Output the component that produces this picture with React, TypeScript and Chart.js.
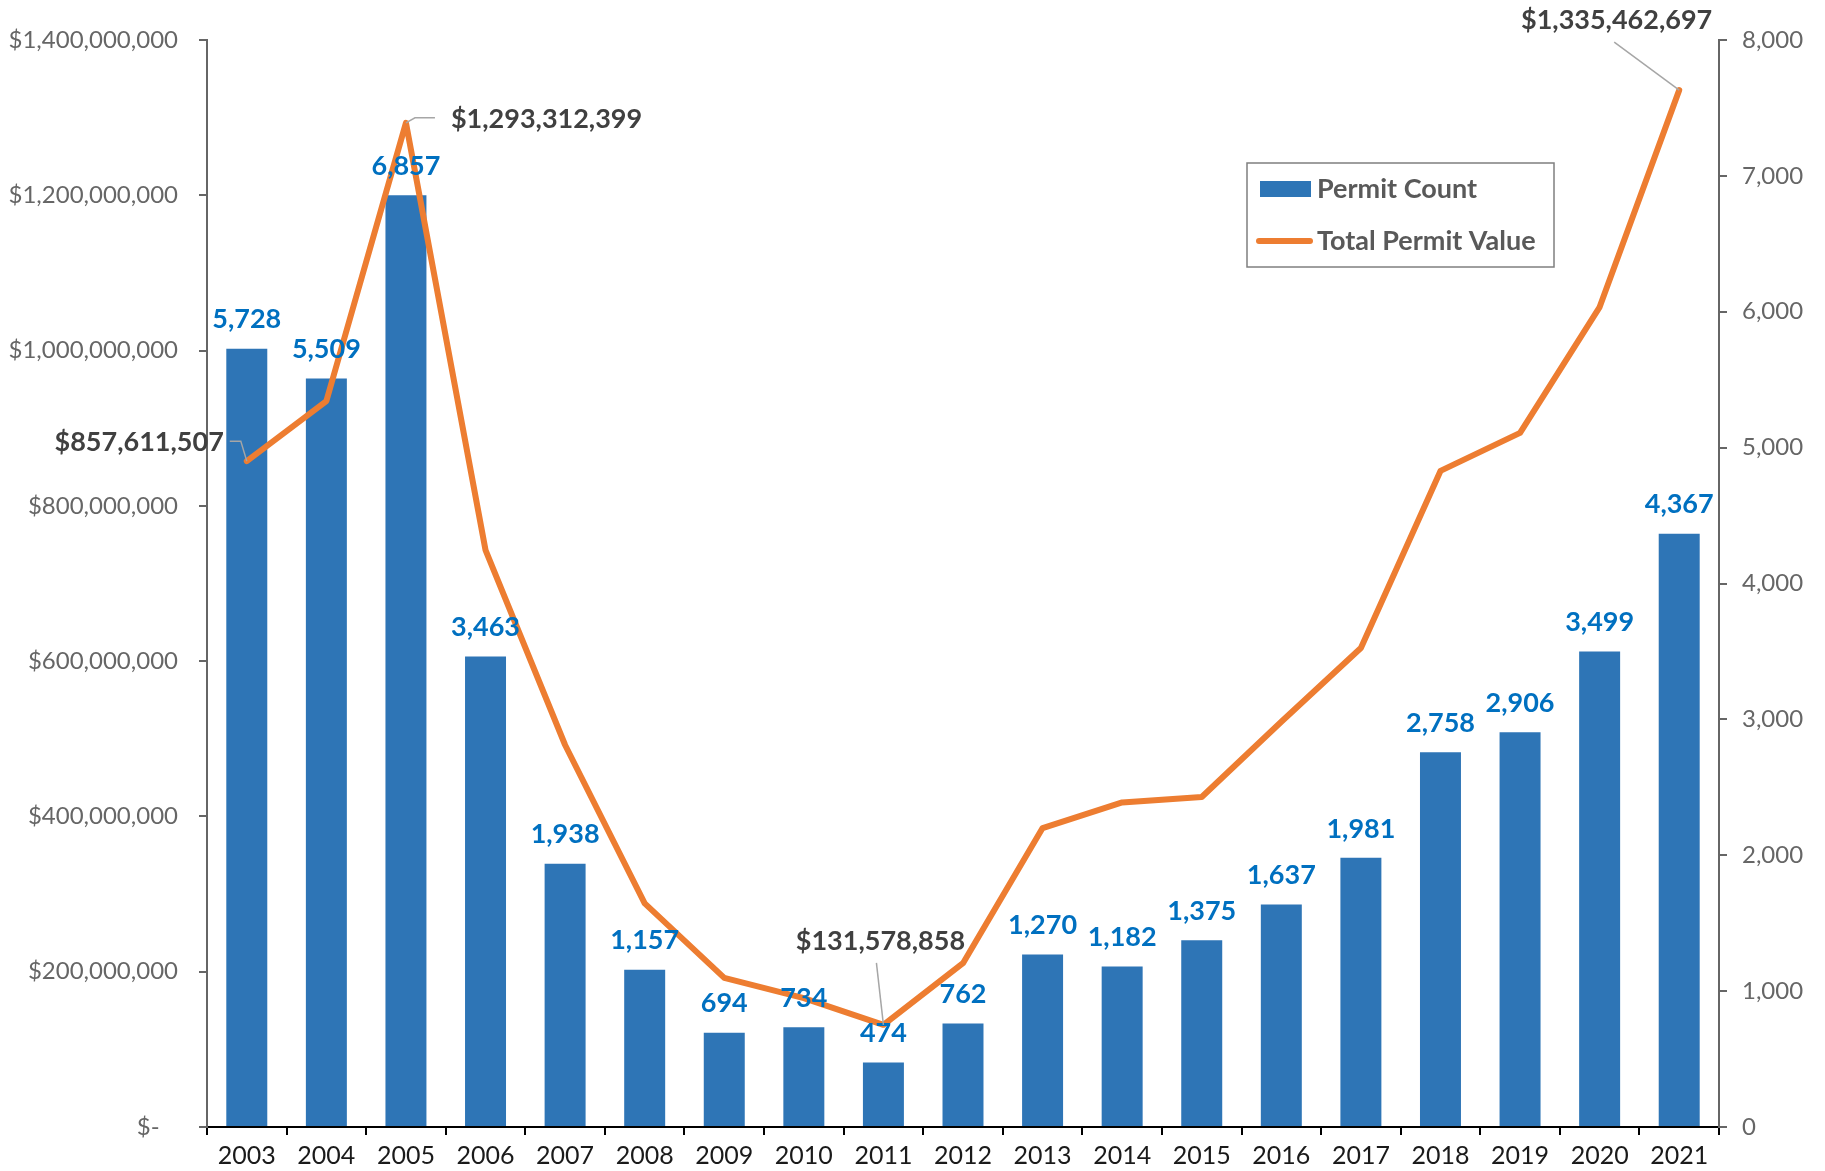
import React, { useEffect, useRef } from "react";
import { Chart, registerables } from "chart.js";

Chart.register(...registerables);

// ---- data ----
const years = [
  "2003", "2004", "2005", "2006", "2007", "2008", "2009", "2010", "2011", "2012",
  "2013", "2014", "2015", "2016", "2017", "2018", "2019", "2020", "2021",
];
const permitCount = [
  5728, 5509, 6857, 3463, 1938, 1157, 694, 734, 474, 762,
  1270, 1182, 1375, 1637, 1981, 2758, 2906, 3499, 4367,
];
const permitValue = [
  857611507, 935000000, 1293312399, 743000000, 492000000, 288000000, 192000000, 166000000, 131578858, 211000000,
  385000000, 418000000, 425000000, 522000000, 617000000, 845000000, 894000000, 1056000000, 1335462697,
];
const valueAxisMax = 1400000000;
const valueAxisStep = 200000000;
const countAxisMax = 8000;
const countAxisStep = 1000;
const calloutIndices = [0, 2, 8, 18];
const seriesNames = ["Permit Count", "Total Permit Value"];

const BLUE = "#2E75B6";
const ORANGE = "#ED7D31";
const LABEL_BLUE = "#0070C0";
const DARK = "#404040";
const AXIS_GRAY = "#666666";
const FONT = "Lato, 'Open Sans', sans-serif";

const fmt = (v: number) => v.toLocaleString("en-US");

const overlayPlugin = {
  id: "overlay",
  afterDatasetsDraw(chart: any) {
    const ctx = chart.ctx as CanvasRenderingContext2D;
    const barMeta = chart.getDatasetMeta(0);
    const lineMeta = chart.getDatasetMeta(1);
    ctx.save();
    // bar value labels
    ctx.font = `bold 27px ${FONT}`;
    ctx.fillStyle = LABEL_BLUE;
    ctx.textAlign = "center";
    ctx.textBaseline = "middle";
    barMeta.data.forEach((bar: any, i: number) => {
      ctx.fillText(fmt(permitCount[i]), bar.x, bar.y - 29);
    });

    // callouts on line
    const lines: Record<number, { pts: [number, number][]; tx: number; ty: number; align: CanvasTextAlign }> = {
      0: { pts: [[0, 0], [-6, -20], [-17, -20]], tx: -23, ty: -19, align: "right" },
      2: { pts: [[0, 0], [9, -5], [29, -5]], tx: 45, ty: -4, align: "left" },
      8: { pts: [[0, 0], [-7, -62]], tx: -3, ty: -84, align: "center" },
      18: { pts: [[0, 0], [-65, -48]], tx: 33, ty: -70, align: "right" },
    };
    calloutIndices.forEach((i) => {
      const p = lineMeta.data[i];
      const c = lines[i];
      ctx.strokeStyle = "#A6A6A6";
      ctx.lineWidth = 1.5;
      ctx.beginPath();
      c.pts.forEach(([dx, dy], k) => {
        if (k === 0) ctx.moveTo(p.x + dx, p.y + dy);
        else ctx.lineTo(p.x + dx, p.y + dy);
      });
      ctx.stroke();
      ctx.font = `bold 27px ${FONT}`;
      ctx.fillStyle = DARK;
      ctx.textAlign = c.align;
      ctx.textBaseline = "middle";
      ctx.fillText("$" + fmt(permitValue[i]), p.x + c.tx, p.y + c.ty);
    });

    // legend
    const lx = 1247, ly = 163, lw = 307, lh = 104;
    ctx.fillStyle = "#ffffff";
    ctx.fillRect(lx, ly, lw, lh);
    ctx.strokeStyle = "#7F7F7F";
    ctx.lineWidth = 1.5;
    ctx.strokeRect(lx, ly, lw, lh);
    ctx.fillStyle = BLUE;
    ctx.fillRect(lx + 13, ly + 18, 51, 16);
    ctx.strokeStyle = ORANGE;
    ctx.lineWidth = 6;
    ctx.lineCap = "round";
    ctx.beginPath();
    ctx.moveTo(lx + 12, ly + 78);
    ctx.lineTo(lx + 63, ly + 78);
    ctx.stroke();
    ctx.font = `bold 27px ${FONT}`;
    ctx.fillStyle = "#595959";
    ctx.textAlign = "left";
    ctx.textBaseline = "middle";
    ctx.fillText(seriesNames[0], lx + 70, ly + 26);
    ctx.fillText(seriesNames[1], lx + 70, ly + 78);
    ctx.restore();
  },
};

export default function App() {
  const ref = useRef<HTMLCanvasElement | null>(null);
  useEffect(() => {
    if (!ref.current) return;
    const chart = new Chart(ref.current, {
      type: "bar",
      data: {
        labels: years,
        datasets: [
          {
            type: "bar",
            label: seriesNames[0],
            data: permitCount,
            backgroundColor: BLUE,
            yAxisID: "yR",
            barPercentage: 0.515,
            categoryPercentage: 1,
            order: 2,
          },
          {
            type: "line",
            label: seriesNames[1],
            data: permitValue,
            borderColor: ORANGE,
            borderWidth: 6,
            pointRadius: 0,
            tension: 0,
            borderJoinStyle: "round",
            borderCapStyle: "round",
            yAxisID: "yL",
            order: 1,
          } as any,
        ],
      },
      options: {
        responsive: false,
        animation: false,
        layout: { padding: { top: 40, left: 0, right: 0, bottom: 0 } },
        plugins: {
          legend: { display: false },
          tooltip: { enabled: false },
          title: { display: false },
        },
        scales: {
          x: {
            grid: {
              display: true,
              drawOnChartArea: false,
              drawTicks: true,
              tickLength: 8,
              color: "#000000",
              lineWidth: 2,
              offset: true,
            },
            border: { display: true, color: "#000000", width: 2 },
            ticks: {
              color: "#1a1a1a",
              font: { family: FONT, size: 25 },
              padding: 6,
              maxRotation: 0,
              autoSkip: false,
            },
            afterFit: (s: any) => { s.height = 44; },
          },
          yL: {
            type: "linear",
            position: "left",
            min: 0,
            max: valueAxisMax,
            grid: {
              drawOnChartArea: false,
              drawTicks: true,
              tickLength: 8,
              color: AXIS_GRAY,
              lineWidth: 2,
            },
            border: { display: true, color: AXIS_GRAY, width: 2 },
            ticks: {
              stepSize: valueAxisStep,
              color: "#666666",
              font: { family: FONT, size: 24 },
              padding: 21,
              callback: (v: any) => (Number(v) === 0 ? "$-   " : "$" + fmt(Number(v))),
            },
            afterFit: (s: any) => { s.width = 207; },
          },
          yR: {
            type: "linear",
            position: "right",
            min: 0,
            max: countAxisMax,
            grid: {
              drawOnChartArea: false,
              drawTicks: true,
              tickLength: 8,
              color: AXIS_GRAY,
              lineWidth: 2,
            },
            border: { display: true, color: AXIS_GRAY, width: 2 },
            ticks: {
              stepSize: countAxisStep,
              color: "#666666",
              font: { family: FONT, size: 24 },
              padding: 15,
              callback: (v: any) => fmt(Number(v)),
            },
            afterFit: (s: any) => { s.width = 106; },
          },
        },
      } as any,
      plugins: [overlayPlugin],
    });
    return () => chart.destroy();
  }, []);
  return (
    <div style={{ position: "absolute", left: 0, top: 0, width: 1825, height: 1171, background: "#fff" }}>
      <canvas ref={ref} width={1825} height={1171} style={{ width: 1825, height: 1171, display: "block" }} />
    </div>
  );
}
